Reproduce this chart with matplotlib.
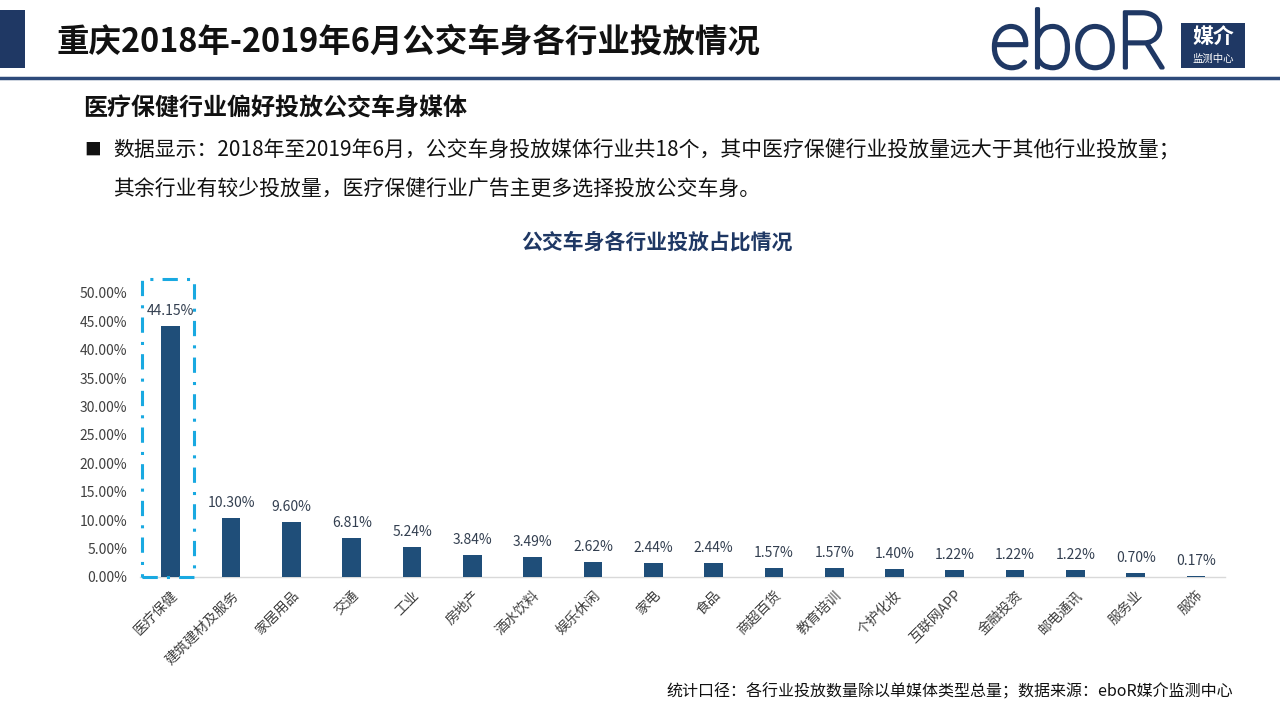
import matplotlib
matplotlib.use("Agg")
import matplotlib.pyplot as plt
from matplotlib.patches import Rectangle
import matplotlib.patheffects as pe

plt.rcParams['font.family'] = ['Noto Sans CJK SC', 'DejaVu Sans']

categories = ["医疗保健", "建筑建材及服务", "家居用品", "交通", "工业", "房地产", "酒水饮料",
              "娱乐休闲", "家电", "食品", "商超百货", "教育培训", "个护化妆", "互联网APP",
              "金融投资", "邮电通讯", "服务业", "服饰"]
values = [44.15, 10.30, 9.60, 6.81, 5.24, 3.84, 3.49, 2.62, 2.44, 2.44, 1.57, 1.57,
          1.40, 1.22, 1.22, 1.22, 0.70, 0.17]
y_ticks = [0, 5, 10, 15, 20, 25, 30, 35, 40, 45, 50]

W, H = 1280, 720
fig = plt.figure(figsize=(12.8, 7.2), dpi=100)
fig.patch.set_facecolor('white')

def fx(x):
    return x / W

def fy(y):
    return 1 - y / H

NAVY = '#1f3864'
BAR = '#1f4e79'

# header decorations
fig.patches.append(Rectangle((fx(0), fy(68)), fx(25), 58 / H, transform=fig.transFigure,
                             facecolor=NAVY, edgecolor='none'))
fig.add_artist(plt.Line2D([0, 1], [fy(78), fy(78)], transform=fig.transFigure,
                          color='#2e4a7a', linewidth=2.5))
fig.text(fx(57), fy(42), "重庆2018年-2019年6月公交车身各行业投放情况", fontsize=23.4,
         fontweight='bold', color='#111111', va='center', ha='left')

# logo
fig.text(fx(990), fy(68), "eboR", fontsize=57, family=['Roboto', 'DejaVu Sans'],
         fontweight='light', color=NAVY, va='baseline', ha='left',
         path_effects=[pe.withStroke(linewidth=2.2, foreground=NAVY)])
fig.patches.append(Rectangle((fx(1181), fy(68)), 64 / W, 45 / H, transform=fig.transFigure,
                             facecolor=NAVY, edgecolor='none'))
fig.text(fx(1213), fy(36), "媒介", fontsize=15, fontweight='bold', color='white',
         va='center', ha='center')
fig.text(fx(1213), fy(59), "监测中心", fontsize=7.5, color='white', va='center', ha='center')

# texts
fig.text(fx(83), fy(108), "医疗保健行业偏好投放公交车身媒体", fontsize=17.3, fontweight='bold',
         color='#111111', va='center', ha='left')
fig.text(fx(84), fy(150), "■", fontsize=12, color='#111111', va='center', ha='left')
fig.text(fx(113), fy(150), "数据显示：2018年至2019年6月，公交车身投放媒体行业共18个，其中医疗保健行业投放量远大于其他行业投放量；",
         fontsize=15, color='#111111', va='center', ha='left')
fig.text(fx(113), fy(190), "其余行业有较少投放量，医疗保健行业广告主更多选择投放公交车身。",
         fontsize=15, color='#111111', va='center', ha='left')
fig.text(fx(657), fy(242), "公交车身各行业投放占比情况", fontsize=15, fontweight='bold',
         color=NAVY, va='center', ha='center')
fig.text(fx(1233), fy(692), "统计口径：各行业投放数量除以单媒体类型总量；数据来源：eboR媒介监测中心",
         fontsize=11.5, color='#111111', va='center', ha='right')

# chart
ax = fig.add_axes([fx(140), fy(577), (1225 - 140) / W, (577 - 293) / H])
ax.set_facecolor('none')
x = list(range(len(categories)))
vals = [v / 100 for v in values]
ax.bar(x, vals, width=0.31, color=BAR, zorder=3)
ax.set_xlim(-0.51, len(categories) - 0.52)
ax.set_ylim(0, 0.5)
ax.set_yticks([t / 100 for t in y_ticks])
ax.set_yticklabels([f"{t:.2f}%" for t in y_ticks], fontsize=10, color='#404040')
ax.set_xticks(x)
ax.set_xticklabels(categories, rotation=45, ha='right', rotation_mode='anchor',
                   fontsize=10, color='#404040')
ax.tick_params(axis='both', length=0)
ax.tick_params(axis='x', pad=8)
ax.tick_params(axis='y', pad=9)
for s in ['top', 'right', 'left']:
    ax.spines[s].set_visible(False)
ax.spines['bottom'].set_color('#d9d9d9')
ax.spines['bottom'].set_linewidth(1)

for xi, v in zip(x, values):
    ax.annotate(f"{v:.2f}%", (xi, v / 100), xytext=(0, 6), textcoords='offset points',
                ha='center', va='bottom', fontsize=10, color='#333f50')

# highlight rectangle around first bar
rect = Rectangle((-0.47, 0.0), 0.86, 0.5 + 14 / 568, fill=False, edgecolor='#19a9e1',
                 linewidth=2.2, linestyle=(0, (5, 3, 1, 3)), clip_on=False, zorder=4)
ax.add_patch(rect)

fig.savefig("out.png", dpi=100, facecolor='white')
